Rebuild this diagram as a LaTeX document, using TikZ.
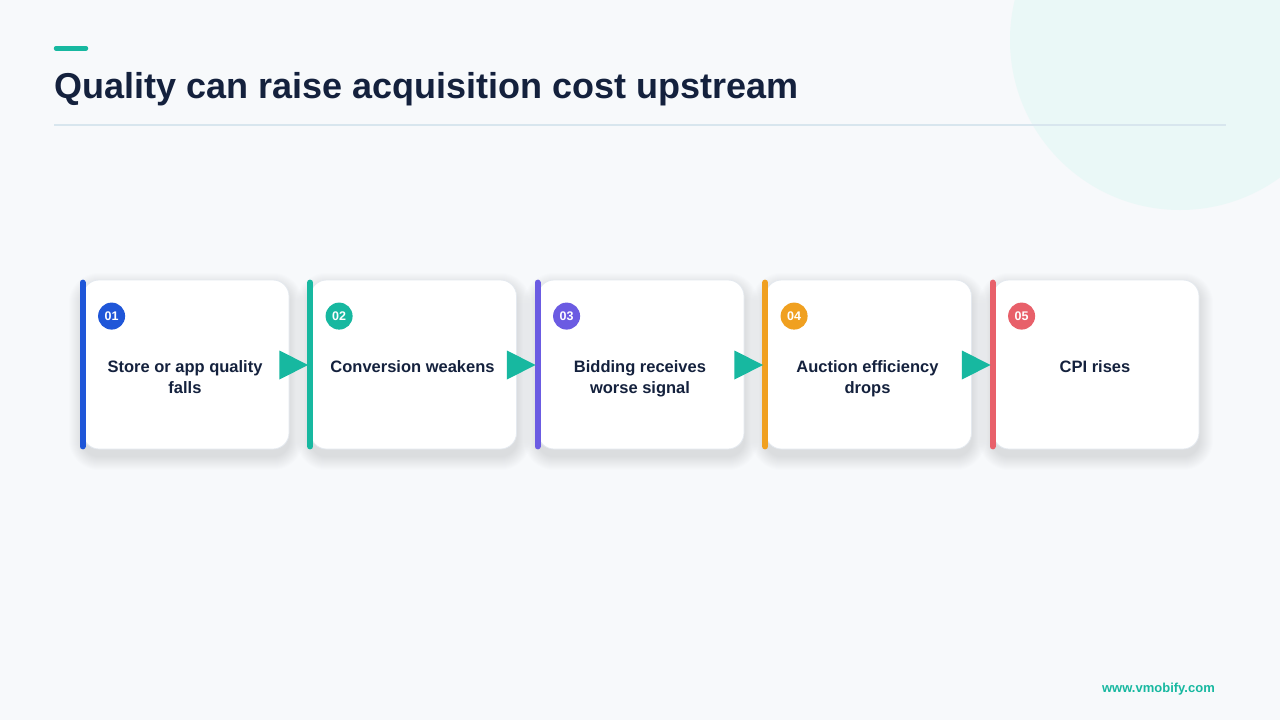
\documentclass[tikz,border=0pt]{standalone}
\usepackage{fontspec}
\setmainfont{Liberation Sans}
\usetikzlibrary{calc}
\definecolor{bg}{HTML}{F7F9FB}
\definecolor{deco}{HTML}{EAF8F7}
\definecolor{navy}{HTML}{14213D}
\definecolor{accent}{HTML}{17B8A0}
\definecolor{sepline}{HTML}{D8E6EE}
\definecolor{cardline}{HTML}{E4E9EF}
\definecolor{shade}{HTML}{5A6E8A}
\definecolor{cblue}{HTML}{1F56D8}
\definecolor{cteal}{HTML}{17B8A0}
\definecolor{cpurple}{HTML}{6B5BE2}
\definecolor{corange}{HTML}{F0A020}
\definecolor{cred}{HTML}{E8606A}
\tikzset{
  card/.style={draw=cardline, line width=0.8pt, fill=white, rounded corners=16pt,
    minimum width=206pt, minimum height=169pt, inner sep=0pt},
  softshadow/.style={fill=shade, fill opacity=0.011},
  bar/.style={line width=6pt, line cap=round},
  num/.style={circle, minimum size=27pt, inner sep=0pt, text=white, font=\bfseries\fontsize{12.5}{14}\selectfont},
  lbl/.style={anchor=north, inner sep=0pt, align=center, text=navy, font=\bfseries\fontsize{16.5}{21}\selectfont},
  flowarrow/.style={fill=accent}
}
\begin{document}
\begin{tikzpicture}[x=1pt,y=-1pt]
\useasboundingbox (0,0) rectangle (1280,720);
\fill[bg] (0,0) rectangle (1280,720);
\begin{scope}
  \clip (0,0) rectangle (1280,720);
  \fill[deco] (1180,40) circle[radius=170pt];
\end{scope}
% header
\draw[accent, line width=4.5pt, line cap=round] (56,48.3) -- (86,48.3);
\node[anchor=base west, inner sep=0pt, text=navy, font=\bfseries\fontsize{36}{40}\selectfont] (title) at (54,98) {Quality can raise acquisition cost upstream};
\draw[sepline, line width=1.5pt] (54,125) -- (1226,125);
% cards
\foreach \i/\x/\col/\txt in {1/186/cblue/{Store or app quality\\falls},2/413.5/cteal/{Conversion weakens},3/641/cpurple/{Bidding receives\\worse signal},4/868.5/corange/{Auction efficiency\\drops},5/1096/cred/{CPI rises}}{
  \foreach \k in {1,...,14}{
    \fill[softshadow, rounded corners=16pt+\k pt] (\x-103-\k,280+7-\k) rectangle (\x+103+\k,449+7+\k);
  }
  \node[card] (c\i) at (\x,364.5) {};
  \draw[bar, \col] ($(c\i.north west)+(0,3)$) -- ($(c\i.south west)+(0,-3)$);
  \node[num, fill=\col] (n\i) at ($(c\i.north west)+(29,36.5)$) {0\i};
  \node[lbl] (t\i) at ($(c\i.north)+(-1,80.5)$) {\txt};
}
% arrows
\foreach \a/\b in {1/2,2/3,3/4,4/5}{
  \fill[flowarrow] ($(c\a.east)+(-10,-14)$) -- ($(c\b.west)+(-2,0.5)$) -- ($(c\a.east)+(-10,15)$) -- cycle;
}
% footer
\node[anchor=base east, inner sep=0pt, text=accent, font=\bfseries\fontsize{13}{15}\selectfont] (footer) at (1215,692) {www.vmobify.com};
\end{tikzpicture}
\end{document}
